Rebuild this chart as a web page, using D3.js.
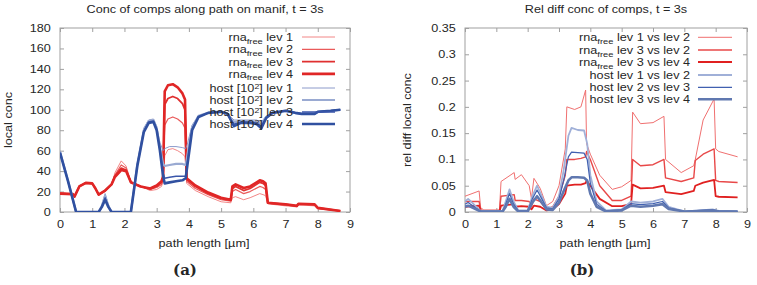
<!DOCTYPE html>
<html><head><meta charset="utf-8">
<script src="https://cdn.jsdelivr.net/npm/d3@7"></script>
<style>body{margin:0;background:#fff}svg{display:block}</style>
</head><body><svg id="c" width="757" height="285"></svg>
<script>
// ---------- Panel (a): concentrations along path ----------
const titleA = "Conc of comps along path on manif, t = 3s";
const titleB = "Rel diff conc of comps, t = 3s";
const xTicks = [0,1,2,3,4,5,6,7,8,9];
const yTicksA = [0,20,40,60,80,100,120,140,160,180];
const yTicksB = [0,0.05,0.1,0.15,0.2,0.25,0.3,0.35];

const rnaX = [0,0.4,0.45,0.6,0.8,1.0,1.1,1.2,1.4,1.6,1.7,1.9,2.05,2.2,2.5,2.8,3.0,3.15,3.2,3.25,3.35,3.5,3.65,3.8,3.88,3.93,4.2,4.6,5.0,5.3,5.35,5.45,5.7,5.9,6.2,6.3,6.38,6.45,7.0,7.35,7.4,7.9,8.0,8.7];
const rnaLev1 = [19,18,16,26,28,27.5,23,17,20,26,38,50,45,30,25,21,22,25,30,55,61,62,60,57,54,28,21,15,10,9,14,15,12,14,18,17,16,8,6,5,7,6,3,1];
const rnaLev2 = [18.5,17.5,15.5,25.5,28,27.5,23,17,20.5,26.5,36,46,43,29.5,25,22,24,27,32,85,91,93,91,87,82,30,23,17,12,10.5,20,22,18,20,25,24,22,8.5,7,5.5,7.5,7,3.5,1];
const rnaLev3 = [18,17.5,15,25,28.5,28,23,17,21,27,35,43,41,29,25,22.5,25,29,34,105,111,113,111,106,100,32,25,18,13,11.5,23,25,21,23,29,28,26,9,7.5,6,8,7.5,4,1];
const rnaLev4 = [18,17.5,15,25,28.5,28,23,17,21,27,34,41,40,29,25,23,26,30,35,118,124,125,122,116,110,33,26,19,14,12,25,27,23.5,25,31,30,28,9,7.5,6,8,7.5,4,1];

const hostX = [0,0.25,0.5,1.2,1.3,1.4,1.5,1.6,2.2,2.4,2.6,2.75,2.9,3.0,3.1,3.2,3.25,3.4,3.6,3.8,3.9,3.95,4.1,4.3,4.6,5.0,5.2,5.3,5.4,5.6,5.9,6.1,6.25,6.4,6.6,7.0,7.3,7.5,7.9,8.0,8.4,8.7];
const hostLev1 = [60,31,0,0,7,18,7,0,0,48,82,90,91,84,68,60,62,64,64,63,62,66,85,94,97,98,97,93,90,90,90,90,88,94,97,99,97,96,96,98,99,100];
const hostLev2 = [59,30.5,0,0,6,16,6,0,0,47,80,89,90,82,64,47,45,46,47,47,46,55,83,94,97,98,96,91,88,89,89,88,86,93,97,99,97,96,96,98,99,100];
const hostLev3 = [58,30,0,0,5,14,5,0,0,46,79,88,89,81,62,38,33,34,35,35,35,48,81,93,97,98,96,90,86,88,88,87,84,92,97,99,97,96,96,98,99,100];
const hostLev4 = [58,30,0,0,5,12,5,0,0,45,78,87,88,80,60,35,28,29,30,31,33,45,80,93,97,98,96,90,84,87,87,86,82,92,97,99,97,96,96,98,99,100];

// ---------- Panel (b): relative differences ----------
const relX = [0,0.45,0.5,0.6,1.1,1.15,1.57,1.6,1.8,2.05,2.12,2.2,2.4,2.6,2.8,3.0,3.2,3.25,3.5,3.7,3.85,3.88,4.0,4.3,4.7,5.0,5.3,5.35,5.6,6.0,6.35,6.4,6.9,7.3,7.35,7.6,7.95,8.0,8.1,8.7];
const rna1v2 = [0.03,0.04,0.008,0.004,0.004,0.058,0.075,0.062,0.071,0.05,0.025,0.064,0.045,0.012,0.02,0.05,0.12,0.2,0.195,0.2,0.232,0.13,0.11,0.07,0.043,0.048,0.06,0.19,0.168,0.17,0.182,0.1,0.075,0.088,0.1,0.175,0.215,0.12,0.115,0.105];
const rna3v2 = [0.02,0.02,0.004,0.002,0.002,0.03,0.033,0.022,0.022,0.02,0.01,0.025,0.02,0.005,0.01,0.03,0.07,0.1,0.1,0.102,0.105,0.115,0.1,0.05,0.022,0.022,0.03,0.1,0.088,0.09,0.1,0.065,0.058,0.065,0.098,0.11,0.12,0.06,0.058,0.056];
const rna3v4 = [0.01,0.012,0.002,0.001,0.001,0.012,0.015,0.01,0.011,0.01,0.005,0.012,0.01,0.003,0.005,0.015,0.035,0.05,0.052,0.052,0.055,0.06,0.05,0.025,0.011,0.011,0.015,0.052,0.045,0.046,0.05,0.038,0.034,0.04,0.05,0.056,0.061,0.03,0.029,0.028];

const hostRelX = [0,0.1,0.5,1.2,1.3,1.42,1.55,1.7,2.0,2.15,2.3,2.45,2.6,2.8,3.0,3.15,3.3,3.4,3.6,3.8,3.9,4.0,4.2,4.5,5.0,5.3,5.6,6.0,6.3,6.5,7.0,7.5,7.9,8.1,8.7];
const host1v2 = [0.02,0.025,0.002,0.002,0.02,0.043,0.02,0.003,0.003,0.03,0.05,0.03,0.01,0.008,0.03,0.08,0.145,0.16,0.156,0.155,0.13,0.07,0.02,0.003,0.005,0.02,0.018,0.02,0.025,0.01,0.001,0.003,0.005,0.002,0.001];
const host2v3 = [0.015,0.018,0.001,0.001,0.015,0.035,0.015,0.002,0.002,0.025,0.042,0.025,0.008,0.006,0.025,0.06,0.105,0.114,0.113,0.112,0.1,0.055,0.015,0.002,0.004,0.016,0.014,0.016,0.02,0.008,0.001,0.003,0.004,0.002,0.001];
const host3v4 = [0.01,0.012,0.001,0.001,0.01,0.025,0.01,0.001,0.001,0.018,0.03,0.018,0.005,0.004,0.018,0.04,0.06,0.066,0.066,0.065,0.06,0.035,0.01,0.001,0.003,0.012,0.01,0.012,0.015,0.006,0.001,0.002,0.003,0.001,0.001];

// ---------- drawing ----------
const SX = 1.17;
const FONT = "'Liberation Sans', Arial, Helvetica, sans-serif";
const TXT = "#262626";
const FRAME = "#a0a0a0";
const svg = d3.select("#c");

function label(parent, x, y, str, opts={}) {
  let tr = `translate(${x},${y})` + (opts.rot ? " rotate(-90)" : "") + (opts.noscale ? "" : ` scale(${SX},1)`);
  const g = parent.append("g").attr("transform", tr);
  return g.append("text").attr("text-anchor", opts.anchor || "middle")
    .attr("font-family", opts.family || FONT).attr("font-size", opts.size || 10.8)
    .attr("font-weight", opts.weight || "normal").attr("fill", TXT).text(str);
}

function panel(cfg) {
  const x = d3.scaleLinear().domain([0, 9]).range([cfg.left, cfg.right]);
  const y = d3.scaleLinear().domain([0, cfg.ymax]).range([212, 28]);
  const g = svg.append("g");
  const clipId = "clip" + cfg.id;
  svg.append("clipPath").attr("id", clipId).append("rect")
    .attr("x", cfg.left).attr("y", 28).attr("width", cfg.right - cfg.left).attr("height", 184);

  const styleAxis = (a) => {
    a.select(".domain").remove();
    a.selectAll("line").attr("stroke", FRAME);
    a.selectAll("text").attr("font-family", FONT).attr("font-size", 10.8).attr("fill", TXT);
  };
  const ab = g.append("g").attr("transform", "translate(0,212)")
    .call(d3.axisBottom(x).tickValues(xTicks).tickFormat(d3.format("d")).tickSizeInner(-4).tickSizeOuter(0).tickPadding(8));
  styleAxis(ab); ab.selectAll("text").attr("transform", `scale(${SX},1)`);
  const at = g.append("g").attr("transform", "translate(0,28)")
    .call(d3.axisTop(x).tickValues(xTicks).tickSizeInner(-4).tickSizeOuter(0));
  styleAxis(at); at.selectAll("text").remove();
  const al = g.append("g").attr("transform", `translate(${cfg.left},0)`)
    .call(d3.axisLeft(y).tickValues(cfg.yTicks).tickFormat(cfg.fmt).tickSizeInner(-4).tickSizeOuter(0).tickPadding(7.8));
  styleAxis(al); al.selectAll("text").attr("transform", `scale(${SX},1)`);
  const ar = g.append("g").attr("transform", `translate(${cfg.right},0)`)
    .call(d3.axisRight(y).tickValues(cfg.yTicks).tickSizeInner(-4).tickSizeOuter(0));
  styleAxis(ar); ar.selectAll("text").remove();

  g.append("rect").attr("x", cfg.left).attr("y", 28).attr("width", cfg.right - cfg.left).attr("height", 184)
    .attr("fill", "none").attr("stroke", FRAME).attr("stroke-width", 1);

  const line = d3.line().x(d => x(d[0])).y(d => y(d[1]));
  const lg = g.append("g").attr("clip-path", `url(#${clipId})`);
  cfg.series.forEach(s => {
    const pts = s.xs.map((v, i) => [v, s.ys[i]]);
    lg.append("path").attr("d", line(pts)).attr("fill", "none")
      .attr("stroke", s.color).attr("stroke-width", s.w).attr("stroke-linejoin", "round");
  });

  cfg.series.forEach((s, i) => {
    const ly = cfg.legY[i];
    g.append("line").attr("x1", cfg.legLine[0]).attr("x2", cfg.legLine[1]).attr("y1", ly).attr("y2", ly)
      .attr("stroke", s.color).attr("stroke-width", s.w);
    const gg = g.append("g").attr("transform", `translate(${cfg.legText},${ly + 4}) scale(${SX},1)`);
    const t = gg.append("text").attr("text-anchor", "end").attr("font-family", FONT)
      .attr("font-size", 10.8).attr("fill", TXT);
    s.label.forEach(p => {
      const ts = t.append("tspan").text(p.t);
      if (p.sub) ts.attr("font-size", 8).attr("dy", 2.5);
      if (p.sup) ts.attr("font-size", 7.5).attr("dy", -3.5);
      if (p.dy) ts.attr("dy", p.dy);
    });
  });

  const cx = (cfg.left + cfg.right) / 2;
  label(svg, cx, 13, cfg.title);
  label(svg, cx - 1, 247, "path length [\u00b5m]");
  label(svg, cfg.yLabX, 120, cfg.yLabel, {rot: true});
  label(svg, cfg.tagX, 275, cfg.tag, {family: "'DejaVu Serif', 'Liberation Serif', serif", weight: "bold", size: 15, noscale: true});
}

const rnaLab = (n) => [{t: "rna"}, {t: "free", sub: true}, {t: " lev " + n, dy: -2.5}];
const hostLab = (n) => [{t: "host [10"}, {t: "2", sup: true}, {t: "] lev " + n, dy: 3.5}];
const rnaRel = (s) => [{t: "rna"}, {t: "free", sub: true}, {t: " " + s, dy: -2.5}];
const hostRel = (s) => [{t: "host " + s}];

panel({
  id: "A", left: 60, right: 350, ymax: 180, yTicks: yTicksA, fmt: d3.format("d"),
  title: titleA, yLabel: "local conc", yLabX: 12, tag: "(a)", tagX: 185,
  legText: 293, legLine: [302, 335], legY: [37, 49.3, 61.6, 73.9, 88, 100, 112, 124],
  series: [
    {xs: rnaX, ys: rnaLev1, color: "#f07878", w: 0.9, label: rnaLab(1)},
    {xs: rnaX, ys: rnaLev2, color: "#ea5a5a", w: 1.2, label: rnaLab(2)},
    {xs: rnaX, ys: rnaLev3, color: "#e03030", w: 1.8, label: rnaLab(3)},
    {xs: rnaX, ys: rnaLev4, color: "#e02626", w: 2.6, label: rnaLab(4)},
    {xs: hostX, ys: hostLev1, color: "#7f8fc4", w: 0.9, label: hostLab(1)},
    {xs: hostX, ys: hostLev2, color: "#9aaad2", w: 2.2, label: hostLab(2)},
    {xs: hostX, ys: hostLev3, color: "#3a56aa", w: 1.4, label: hostLab(3)},
    {xs: hostX, ys: hostLev4, color: "#3050a0", w: 2.6, label: hostLab(4)}
  ]
});

panel({
  id: "B", left: 465, right: 747, ymax: 0.35, yTicks: yTicksB, fmt: d3.format("~g"),
  title: titleB, yLabel: "rel diff local conc", yLabX: 411, tag: "(b)", tagX: 582,
  legText: 690, legLine: [698, 732], legY: [37.3, 50, 62, 75, 87.3, 99.3],
  series: [
    {xs: relX, ys: rna1v2, color: "#f07070", w: 1.0, label: rnaRel("lev 1 vs lev 2")},
    {xs: relX, ys: rna3v2, color: "#e84848", w: 1.4, label: rnaRel("lev 3 vs lev 2")},
    {xs: relX, ys: rna3v4, color: "#e02020", w: 1.8, label: rnaRel("lev 3 vs lev 4")},
    {xs: hostRelX, ys: host1v2, color: "#a0b0d8", w: 1.8, label: hostRel("lev 1 vs lev 2")},
    {xs: hostRelX, ys: host2v3, color: "#4060b0", w: 1.2, label: hostRel("lev 2 vs lev 3")},
    {xs: hostRelX, ys: host3v4, color: "#6078b0", w: 2.6, label: hostRel("lev 3 vs lev 4")}
  ]
});
</script></body></html>
